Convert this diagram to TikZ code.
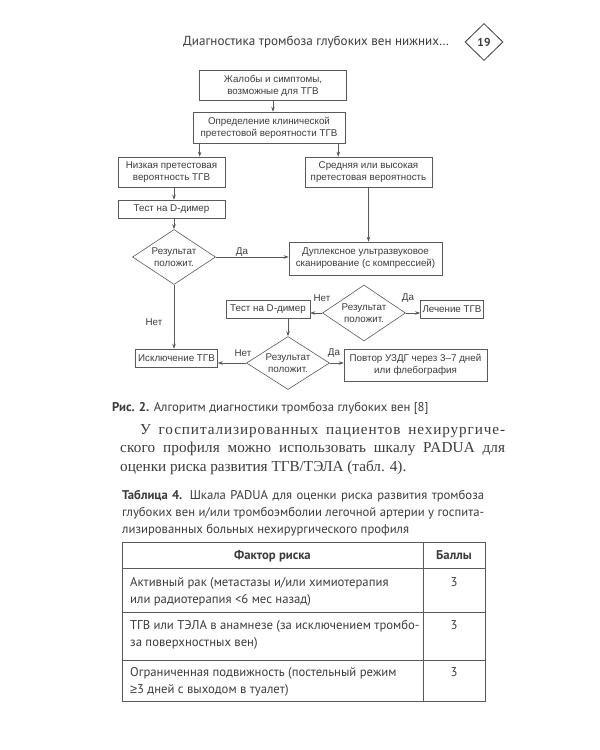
\documentclass[tikz,border=0pt]{standalone}
\usepackage{fontspec}
\setmainfont{Liberation Serif}
\newfontfamily\flowfont{Liberation Sans}
\newfontfamily\bookfont{PT Sans}
\usetikzlibrary{shapes.geometric,arrows.meta}
\definecolor{inkgray}{HTML}{3C3C3C}
\definecolor{linegray}{HTML}{5A5A5A}

\begin{document}
\begin{tikzpicture}[x=1pt,y=1pt]
		\tikzstyle{every node}+=[inner sep=0pt, text=inkgray]
		\tikzstyle{fbox}=[draw=linegray, line width=0.6pt, align=center, font=\flowfont\fontsize{9.8}{12}\selectfont]
		\tikzstyle{fdec}=[fbox, diamond, shape aspect=1.5, minimum width=83pt, minimum height=55pt]
		\tikzstyle{flab}=[font=\flowfont\fontsize{9.8}{12}\selectfont]
		\tikzstyle{arr}=[draw=linegray, line width=0.6pt, -{Stealth[length=5pt,width=3.5pt]}]
		\tikzstyle{book}=[anchor=base west, font=\bookfont\fontsize{12.7}{15}\selectfont]
		\tikzstyle{para}=[anchor=base west, font=\fontsize{15.2}{18.5}\selectfont]
		\useasboundingbox [fill=white] (0,0) rectangle (600,-750);
		% page head
		\node [anchor=west, font=\bookfont\fontsize{13.1}{15}\selectfont] (head) at (183,-42) {Диагностика тромбоза глубоких вен нижних\ldots};
		\node [draw=inkgray, line width=0.8pt, diamond, minimum width=38pt, minimum height=37pt, font=\bookfont\bfseries\fontsize{11.5}{13}\selectfont] (pg) at (484,-42) {19};
		% flowchart
		\node [fbox, minimum width=147pt, minimum height=30pt] (compl) at (273,-85.5) {Жалобы и симптомы,\\возможные для ТГВ};
		\node [fbox, minimum width=152pt, minimum height=31pt] (prob) at (269,-127.5) {Определение клинической\\претестовой вероятности ТГВ};
		\node [fbox, minimum width=107pt, minimum height=30pt] (low) at (171.5,-172) {Низкая претестовая\\вероятность ТГВ};
		\node [fbox, minimum width=127pt, minimum height=30pt] (high) at (368.5,-172) {Средняя или высокая\\претестовая вероятность};
		\node [fbox, minimum width=107pt, minimum height=18pt] (dd1) at (171.5,-209) {Тест на D-димер};
		\node [fdec] (res1) at (174,-257) {Результат\\положит.};
		\node [fbox, minimum width=153pt, minimum height=33pt] (dus) at (365.5,-258.5) {Дуплексное ультразвуковое\\сканирование (с компрессией)};
		\node [fbox, minimum width=84pt, minimum height=18pt] (dd2) at (268,-309) {Тест на D-димер};
		\node [fdec, minimum height=56pt] (res2) at (364,-313) {Результат\\положит.};
		\node [fbox, minimum width=63pt, minimum height=18pt] (treat) at (452,-309) {Лечение ТГВ};
		\node [fdec, minimum height=53pt] (res3) at (288,-363) {Результат\\положит.};
		\node [fbox, minimum width=82pt, minimum height=18pt] (excl) at (176.5,-358) {Исключение ТГВ};
		\node [fbox, minimum width=143pt, minimum height=32pt] (rep) at (415.5,-365) {Повтор УЗДГ через 3–7 дней\\или флебография};
		% connectors
		\draw [arr] (compl.south) -- (compl.south |- prob.north);
		\draw [arr] ([xshift=7pt]prob.south west) -- ([xshift=7pt]prob.south west |- low.north);
		\draw [arr] ([xshift=-7pt]prob.south east) -- ([xshift=-7pt]prob.south east |- high.north);
		\draw [arr] (res1 |- low.south) -- (res1 |- dd1.north);
		\draw [arr] (res1 |- dd1.south) -- (res1.north);
		\draw [arr] (high.south) -- (high.south |- dus.north);
		\draw [arr] (res1.east) -- (res1.east -| dus.west);
		\draw [arr] (res1.south) -- (res1.south |- excl.north);
		\draw [arr] (res2.west) -- (res2.west -| dd2.east);
		\draw [arr] (res2.east) -- (res2.east -| treat.west);
		\draw [arr] (res3 |- dd2.south) -- (res3.north);
		\draw [arr] (res3.west) -- (res3.west -| excl.east);
		\draw [arr] (res3.east) -- (res3.east -| rep.west);
		\node [flab] (yes1) at (242,-252) {Да};
		\node [flab] (no1) at (154,-322) {Нет};
		\node [flab] (no2) at (322,-298) {Нет};
		\node [flab] (yes2) at (408,-298) {Да};
		\node [flab] (no3) at (243,-353) {Нет};
		\node [flab] (yes3) at (334,-353) {Да};
		% caption and text
		\node [book] (fig) at (112,-411) {\textbf{Рис. 2.} Алгоритм диагностики тромбоза глубоких вен [8]};
		\node [para] (par1) at (140,-434) {\addfontfeature{LetterSpace=6}\makebox[365pt][s]{У госпитализированных пациентов нехирургиче-}};
		\node [para] (par2) at (120,-452.5) {\addfontfeature{LetterSpace=1}\makebox[385pt][s]{ского профиля можно использовать шкалу PADUA для}};
		\node [para] (par3) at (120,-471) {оценки риска развития ТГВ/ТЭЛА (табл. 4).};
		\node [book] (tc1) at (122,-499) {\makebox[362pt][s]{\textbf{Таблица 4.} Шкала PADUA для оценки риска развития тромбоза}};
		\node [book] (tc2) at (122,-516) {\makebox[362pt][s]{глубоких вен и/или тромбоэмболии легочной артерии у госпита-}};
		\node [book] (tc3) at (122,-533) {лизированных больных нехирургического профиля};
		% table
		\draw [draw=linegray, line width=0.7pt] (122,-542) rectangle (485,-701);
		\draw [draw=linegray, line width=0.7pt] (423,-542) -- (423,-701);
		\draw [draw=linegray, line width=0.7pt] (122,-568) -- (485,-568);
		\draw [draw=linegray, line width=0.7pt] (122,-612) -- (485,-612);
		\draw [draw=linegray, line width=0.7pt] (122,-660) -- (485,-660);
		\node [book, anchor=base, font=\bookfont\bfseries\fontsize{12.7}{15}\selectfont] (hfac) at (272.5,-559) {Фактор риска};
		\node [book, anchor=base, font=\bookfont\bfseries\fontsize{12.7}{15}\selectfont] (hpts) at (454,-559) {Баллы};
		\node [book] (r1a) at (130,-586) {Активный рак (метастазы и/или химиотерапия};
		\node [book] (r1b) at (130,-603) {или радиотерапия <6 мес назад)};
		\node [book, anchor=base] (p1) at (454,-586) {3};
		\node [book] (r2a) at (130,-629) {ТГВ или ТЭЛА в анамнезе (за исключением тромбо-};
		\node [book] (r2b) at (130,-646) {за поверхностных вен)};
		\node [book, anchor=base] (p2) at (454,-629) {3};
		\node [book] (r3a) at (130,-676) {Ограниченная подвижность (постельный режим};
		\node [book] (r3b) at (130,-693) {{\flowfont ≥}3 дней с выходом в туалет)};
		\node [book, anchor=base] (p3) at (454,-676) {3};
	\end{tikzpicture}
\end{document}
